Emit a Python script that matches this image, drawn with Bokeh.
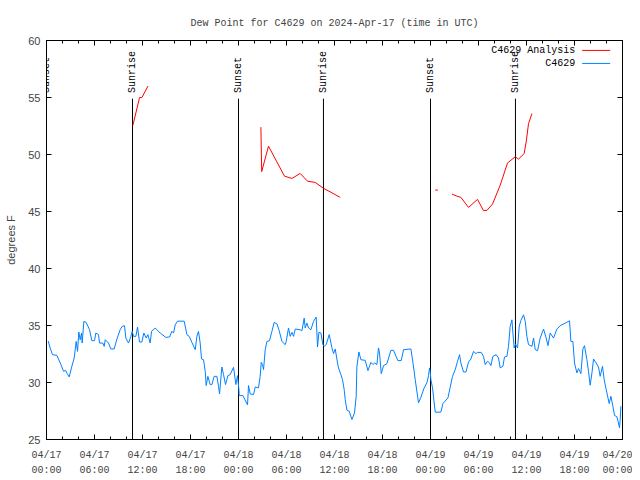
import numpy as np
from bokeh.plotting import figure
from bokeh.models import FixedTicker, LinearAxis, Range1d, ColumnDataSource, LabelSet
from bokeh.core.properties import value
from bokeh.embed import file_html
from bokeh.resources import INLINE

# hours since 2024-04-17 00:00 UTC
obs_hours = [0.21, 0.46, 0.75, 1.3, 1.8, 2.13, 2.38, 2.59, 2.84, 3.17, 3.46, 3.71, 3.88, 4.04, 4.21, 4.38, 4.46,
             4.67, 4.96, 5.38, 5.67, 6.0, 6.17, 6.5, 6.63, 7.04, 7.21, 7.34, 7.75, 8.04, 8.46, 8.8, 9.21, 9.46,
             9.75, 9.92, 10.25, 10.55, 10.71, 10.88, 11.17, 11.38, 11.63, 11.92, 12.17, 12.46, 12.67, 12.96,
             13.13, 13.59, 14.21, 14.92, 15.38, 15.67, 15.88, 16.09, 16.38, 17.21, 17.55, 17.84, 18.17, 18.59,
             18.8, 19.0, 19.21, 19.38, 19.63, 19.84, 19.96, 20.17, 20.46, 20.67, 20.96, 21.3, 21.5, 21.63,
             21.92, 22.13, 22.38, 22.67, 22.96, 23.38, 23.67, 23.88, 24.05, 24.09, 24.55, 24.8, 25.13, 25.25,
             25.46, 25.88, 26.09, 26.5, 26.71, 26.84, 27.0, 27.13, 27.34, 27.55, 27.88, 28.18, 28.46, 28.8,
             29.05, 29.43, 29.84, 29.96, 30.25, 30.46, 30.68, 30.88, 31.09, 31.71, 31.93, 32.21, 32.34, 32.55,
             32.75, 33.05, 33.38, 33.71, 33.88, 34.05, 34.3, 34.55, 34.71, 34.96, 35.34, 35.68, 35.88, 36.09,
             36.38, 36.5, 36.8, 37.0, 37.21, 37.34, 37.55, 37.84, 38.18, 38.5, 38.71, 38.8, 39.05, 39.3, 39.84,
             40.18, 40.55, 40.8, 41.0, 41.3, 41.5, 41.63, 41.84, 42.13, 42.55, 43.05, 43.38, 43.92, 44.34,
             44.63, 45.55, 45.8, 46.09, 46.5, 46.8, 47.21, 47.55, 47.75, 47.88, 47.96, 48.05, 48.25, 48.59,
             49.3, 49.55, 50.18, 50.75, 51.09, 51.38, 51.63, 51.8, 52.13, 52.43, 52.75, 53.05, 53.38, 53.68,
             53.88, 54.34, 54.63, 54.84, 55.13, 55.38, 55.55, 55.8, 56.21, 56.5, 56.71, 57.05, 57.25, 57.55,
             57.75, 57.96, 58.18, 58.3, 58.46, 58.63, 58.88, 59.09, 59.3, 59.63, 59.84, 60.05, 60.25, 60.68,
             60.88, 61.09, 61.38, 61.71, 62.13, 62.46, 62.68, 62.96, 63.38, 63.8, 64.21, 64.84, 65.38, 65.55,
             65.8, 66.0, 66.3, 66.5, 66.8, 67.05, 67.25, 67.55, 67.75, 67.96, 68.18, 68.38, 68.71, 69.0,
             69.21, 69.5, 69.71, 69.96, 70.34, 70.55, 70.8, 71.0, 71.3, 71.63, 71.71, 71.8]
obs_dewpt = [33.64, 33.03, 32.44, 32.38, 31.57, 30.98, 31.07, 30.78, 30.49, 31.42, 32.15, 33.6, 32.73, 34.43,
             33.75, 34.34, 33.46, 35.36, 35.27, 34.63, 33.67, 33.67, 34.34, 34.2, 33.46, 33.46, 33.17, 33.75,
             33.46, 32.94, 32.94, 33.81, 34.63, 34.92, 34.98, 33.9, 33.46, 34.05, 34.49, 34.05, 34.05, 34.86,
             33.55, 33.55, 34.34, 33.9, 34.2, 33.46, 34.49, 34.78, 34.34, 33.96, 33.99, 34.49, 34.34, 35.06,
             35.38, 35.38, 34.2, 34.05, 33.52, 32.88, 34.05, 34.49, 33.46, 32.06, 32.0, 30.98, 29.73, 30.54,
             29.82, 29.82, 30.54, 30.54, 29.67, 29.0, 31.36, 30.69, 29.82, 30.6, 30.69, 31.33, 29.82, 30.6,
             29.38, 28.85, 28.85, 28.5, 28.04, 29.73, 29.0, 28.94, 29.61, 29.53, 30.54, 31.77, 31.57, 31.13,
             32.88, 33.6, 33.67, 34.49, 35.27, 35.15, 34.63, 33.6, 33.32, 33.6, 34.78, 34.05, 34.4, 34.05,
             34.69, 34.63, 34.54, 35.65, 34.78, 35.21, 34.78, 34.63, 35.36, 35.74, 33.11, 34.4, 34.34, 33.32,
             33.17, 33.32, 34.2, 33.03, 32.53, 32.94, 31.71, 31.28, 30.69, 30.25, 29.38, 28.5, 27.57, 27.48,
             26.75, 27.34, 28.79, 31.42, 32.68, 32.0, 31.94, 31.04, 31.77, 31.57, 31.71, 31.57, 33.03, 32.59,
             30.78, 31.48, 31.65, 32.82, 32.82, 31.92, 31.92, 32.88, 32.94, 31.77, 30.25, 28.21, 28.71, 29.53,
             29.97, 30.6, 31.28, 30.98, 30.25, 29.53, 27.4, 27.4, 28.15, 28.65, 30.54, 31.13, 31.86, 32.44,
             31.71, 30.92, 30.92, 31.8, 32.06, 32.73, 32.53, 32.64, 32.64, 32.29, 31.57, 31.86, 31.71, 31.48,
             32.29, 32.44, 32.15, 31.28, 31.42, 32.24, 32.29, 33.17, 34.92, 35.5, 34.34, 33.03, 33.37, 33.03,
             34.92, 35.44, 35.94, 35.36, 34.05, 33.32, 33.17, 33.9, 32.88, 32.79, 33.9, 34.69, 33.9, 33.23,
             34.34, 33.9, 34.69, 34.98, 35.21, 35.41, 33.6, 33.6, 31.71, 30.84, 31.22, 30.78, 32.94, 33.23,
             32.0, 30.98, 29.76, 30.84, 32.06, 31.71, 31.36, 30.54, 31.42, 30.25, 29.38, 28.15, 28.79, 27.92,
             27.11, 27.0, 26.03, 26.75, 27.92]

nan = float("nan")
ana_hours = [10.8, 11.63, 11.93, 12.68, nan,
             26.8, 26.9, 27.75, 29.75, 30.68, 31.71, 32.63, 33.59, 34.63, 35.68, 36.71, nan,
             48.6, 48.93, nan,
             50.68, 51.3, 51.8, 52.75, 53.88, 54.63, 55.05, 55.75, 56.71, 57.63, 58.59, 59.0, 59.71, 59.96,
             60.25, 60.68]
ana_dewpt = [52.56, 54.99, 55.0, 56.0, nan,
             52.4, 48.5, 50.73, 48.1, 47.9, 48.34, 47.66, 47.55, 47.03, 46.64, 46.24, nan,
             46.88, 46.88, nan,
             46.53, 46.35, 46.24, 45.36, 46.06, 45.07, 45.1, 45.65, 47.3, 49.26, 49.8, 49.6, 50.09, 51.1,
             52.7, 53.59]

sun_hours = [0.0, 10.75, 24.0, 34.62, 48.0, 58.62]
sun_names = ["Sunset", "Sunrise", "Sunset", "Sunrise", "Sunset", "Sunrise"]

tick_hours = [0, 6, 12, 18, 24, 30, 36, 42, 48, 54, 60, 66, 72]
tick_dates = ["04/17", "04/17", "04/17", "04/17", "04/18", "04/18", "04/18", "04/18",
              "04/19", "04/19", "04/19", "04/19", "04/20"]
tick_times = ["00:00", "06:00", "12:00", "18:00", "00:00", "06:00", "12:00", "18:00",
              "00:00", "06:00", "12:00", "18:00", "00:00"]
minor_hours = list(range(0, 73, 2))
y_ticks = [25, 30, 35, 40, 45, 50, 55, 60]

legend_names = ["C4629 Analysis", "C4629"]
RED = "#ff0000"
BLUE = "#0080ff"
MONO = "Liberation Mono"
SANS = "Liberation Sans"

p = figure(width=632, height=478, x_range=Range1d(0, 72), y_range=Range1d(25, 60),
           output_backend="svg", toolbar_location=None,
           min_border_left=46, min_border_right=10, min_border_top=40, min_border_bottom=38,
           title="Dew Point for C4629 on 2024-Apr-17 (time in UTC)")
p.title.align = "center"
p.title.text_font = MONO
p.title.text_font_size = "10px"
p.title.text_font_style = "normal"
p.title.standoff = 24
p.grid.visible = False
p.outline_line_color = "black"
p.background_fill_color = "white"

xt = FixedTicker(ticks=tick_hours, minor_ticks=minor_hours)
yt = FixedTicker(ticks=y_ticks, minor_ticks=[])

def style_axis(ax, ticker):
    ax.ticker = ticker
    ax.axis_line_color = "black"
    ax.major_tick_line_color = "black"
    ax.minor_tick_line_color = "black"
    ax.major_tick_in = 5
    ax.major_tick_out = 0
    ax.minor_tick_in = 3
    ax.minor_tick_out = 0

def hide_labels(ax):
    ax.major_label_text_font_size = "0px"
    ax.major_label_text_color = None
    ax.major_label_standoff = 0

xa = p.xaxis[0]
style_axis(xa, xt)
xa.major_label_overrides = {h: d for h, d in zip(tick_hours, tick_dates)}
xa.major_label_text_font = MONO
xa.major_label_text_font_size = "10px"
xa.major_label_standoff = 10

xa2 = LinearAxis(ticker=xt)
xa2.axis_line_color = None
xa2.major_tick_line_color = None
xa2.minor_tick_line_color = None
xa2.major_tick_in = 0
xa2.major_tick_out = 0
xa2.minor_tick_in = 0
xa2.minor_tick_out = 0
xa2.major_label_overrides = {h: t for h, t in zip(tick_hours, tick_times)}
xa2.major_label_text_font = MONO
xa2.major_label_text_font_size = "10px"
xa2.major_label_standoff = 1
p.add_layout(xa2, "below")

xtop = LinearAxis()
style_axis(xtop, xt)
hide_labels(xtop)
p.add_layout(xtop, "above")

ya = p.yaxis[0]
style_axis(ya, yt)
ya.major_label_text_font = SANS
ya.major_label_text_font_size = "11px"
ya.major_label_standoff = 6
ya.axis_label = "degrees F"
ya.axis_label_text_font = SANS
ya.axis_label_text_font_size = "11px"
ya.axis_label_text_font_style = "normal"
ya.axis_label_standoff = 8

yr = LinearAxis()
style_axis(yr, yt)
hide_labels(yr)
p.add_layout(yr, "right")

# sunrise / sunset markers
sun_src = ColumnDataSource(dict(x=sun_hours, y0=[25] * len(sun_hours), y1=[54.9] * len(sun_hours),
                                ty=[55.4] * len(sun_hours), name=sun_names))
p.segment(x0="x", y0="y0", x1="x", y1="y1", source=sun_src, line_color="black", line_width=1)
p.add_layout(LabelSet(x="x", y="ty", text="name", source=sun_src, angle=np.pi / 2, text_align="left",
                      text_baseline="middle", text_font=value(MONO), text_font_size=value("10px"),
                      text_color="black"))

# data
p.line(obs_hours, obs_dewpt, line_color=BLUE, line_width=1)
p.line(ana_hours, ana_dewpt, line_color=RED, line_width=1)

# gnuplot-style key (text then sample)
leg_src = ColumnDataSource(dict(tx=[66.1, 66.1], ty=[59.13, 57.99], x0=[66.96, 66.96], x1=[70.46, 70.46],
                                name=legend_names, color=[RED, BLUE]))
p.add_layout(LabelSet(x="tx", y="ty", text="name", source=leg_src, text_align="right", text_baseline="middle",
                      text_font=value(MONO), text_font_size=value("10px"), text_color="black"))
p.segment(x0="x0", y0="ty", x1="x1", y1="ty", source=leg_src, line_color="color", line_width=1)

open("out.html", "w").write(file_html(p, INLINE))
